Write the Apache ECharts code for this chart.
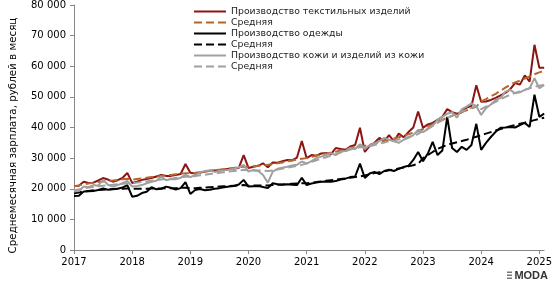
<!DOCTYPE html>
<html>
<head>
<meta charset="utf-8">
<script src="https://cdn.jsdelivr.net/npm/echarts@6/dist/echarts.min.js"></script>
<style>
  html, body { margin: 0; padding: 0; background: #fff; }
  #chart { width: 555px; height: 288px; }
</style>
</head>
<body>
<div id="chart"></div>
<script>
// месяцы: январь 2017 ... февраль 2025
const startYear = 2017
const yearTicks = [2017, 2018, 2019, 2020, 2021, 2022, 2023, 2024, 2025]

const seriesNames = [
  'Производство текстильных изделий',
  'Средняя',
  'Производство одежды',
  'Средняя ',
  'Производство кожи и изделий из кожи',
  'Средняя  '
]

const textile = [
  20900, 21000, 22300, 21900, 22000, 22700, 23500, 23000, 22300, 22800, 23500, 25200,
  21900, 22300, 22900, 23200, 23500, 24000, 24500, 24200, 24200, 24500, 24800, 28100,
  25200, 25000, 25200, 25600, 25900, 26000, 26100, 26300, 26500, 26600, 26800, 31000,
  26800, 27200, 27500, 28300, 27000, 28600, 28500, 29000, 29400, 29300, 30200, 35600,
  30000, 31000, 30800, 31500, 31700, 31200, 33300, 33000, 32700, 33800, 34300, 39900,
  32000, 34000, 35000, 36600, 35500, 37500, 35500, 38000, 36800, 38500, 40000, 45200,
  39900, 41000, 41500, 42500, 43500, 46000, 45000, 44500, 45000, 46500, 47000, 53800,
  48400, 48500, 49000, 49700, 50500, 51300, 52500, 54500, 54000, 57000, 55000, 67000,
  59500, 59500
]
const textileAvg = [
  20800, 21100, 21400, 21700, 22000, 22200, 22400, 22600, 22700, 22900, 23100, 23300,
  23000, 23200, 23400, 23600, 23800, 24000, 24200, 24400, 24500, 24700, 24900, 25100,
  25100, 25200, 25400, 25600, 25800, 26000, 26200, 26400, 26600, 26800, 27000, 27200,
  27200, 27300, 27500, 27700, 27800, 28000, 28300, 28600, 28900, 29200, 29500, 29800,
  30000, 30400, 30800, 31200, 31500, 31800, 32100, 32500, 32900, 33300, 33700, 34100,
  34000, 34400, 34800, 35200, 35600, 36000, 36400, 36800, 37300, 37800, 38300, 38800,
  39500, 40300, 41000, 41800, 42500, 43200, 43800, 44400, 45000, 45600, 46200, 46800,
  48500, 49300, 50200, 51000, 52000, 53000, 54000, 54700, 55300, 56000, 56700, 57400,
  58000, 58500
]
const clothing = [
  17600, 17700, 19100, 19200, 19300, 19600, 20100, 19700, 19800, 20000, 20400, 21200,
  17400, 17700, 18600, 19000, 20500, 19800, 20000, 20700, 20300, 19700, 20200, 22200,
  18300, 19600, 19900, 19500, 19700, 20000, 20200, 20500, 20700, 20900, 21400, 22900,
  20700, 20800, 20900, 20600, 20200, 21800, 21500, 21300, 21500, 21300, 21200, 23600,
  21200, 21700, 22000, 22300, 22400, 22300, 22500, 23000, 23300, 23800, 24000, 28200,
  23500, 25000, 25500, 24800, 25800, 26200, 25800, 26500, 27100, 27500, 29400, 32000,
  29000, 31500, 35300, 31000, 32500, 43500, 33300, 32000, 33700, 32700, 34300, 41200,
  32700, 35000, 36900, 38600, 39900, 40000, 40200, 40000, 40800, 41500, 40200, 50700,
  43500, 44500
]
const clothingAvg = [
  18500, 18800, 19100, 19300, 19500, 19600, 19700, 19800, 19900, 20000, 20000, 20100,
  20000, 20000, 20000, 20000, 20100, 20100, 20100, 20200, 20200, 20200, 20300, 20300,
  20100, 20200, 20300, 20400, 20500, 20600, 20700, 20800, 20900, 21000, 21100, 21200,
  21000, 21100, 21100, 21100, 21100, 21200, 21300, 21400, 21500, 21600, 21700, 21800,
  21800, 22000, 22200, 22400, 22600, 22800, 23000, 23200, 23400, 23600, 23800, 24000,
  24300, 24700, 25100, 25400, 25700, 26000, 26300, 26600, 26900, 27300, 27700, 28100,
  30000, 31000, 32000, 33000, 33700, 34300, 34800, 35200, 35600, 36000, 36500, 37000,
  37500, 38000, 38500, 39000, 39500, 40000, 40400, 40800, 41200, 41600, 42000, 42400,
  42800, 43200
]
const leather = [
  19100, 19300, 20700, 20500, 21200, 21000, 22900, 21300, 20700, 21200, 21800, 22600,
  20700, 20900, 21200, 21800, 22300, 22600, 24000, 22800, 23200, 23100, 23600, 24500,
  23800, 24500, 25300, 25800, 26000, 25500, 25800, 26000, 26200, 26500, 27000, 27800,
  25600, 26100, 25800, 24500, 22000, 25600, 26500, 26900, 27200, 27600, 27800, 28900,
  28200, 29000, 30000, 30500, 31000, 31600, 31000, 32100, 32300, 33300, 33000, 34500,
  33000, 34300, 34800, 35500, 36600, 36000, 35500, 35000, 36000, 36600, 37500, 39200,
  38500, 39500, 40500, 42500, 43500, 44500, 45000, 43200, 46000, 46800, 47900, 47000,
  44100, 46300, 47500, 49000, 49600, 51700, 52300, 51200, 51500, 52300, 52800, 56100,
  52800, 53900
]
const leatherAvg = [
  19500, 19800, 20100, 20400, 20600, 20800, 21000, 21200, 21300, 21500, 21600, 21800,
  21800, 22000, 22200, 22400, 22600, 22800, 23000, 23200, 23300, 23500, 23700, 23900,
  24000, 24200, 24400, 24600, 24800, 25000, 25200, 25400, 25600, 25800, 26000, 26200,
  26000, 26000, 26000, 25900, 25800, 26000, 26300, 26600, 26900, 27200, 27500, 27800,
  28300, 28800, 29300, 29800, 30300, 30800, 31300, 31800, 32300, 32800, 33200, 33600,
  33500, 33900, 34300, 34700, 35100, 35500, 35800, 36100, 36500, 36900, 37400, 37900,
  38800, 39700, 40600, 41500, 42300, 43100, 43900, 44600, 45200, 45800, 46400, 47000,
  46000, 46800, 47600, 48400, 49200, 50000, 50700, 51300, 51800, 52300, 52800, 53300,
  53600, 53900
]

const font = 'DejaVu Sans'

function toPoints(arr) {
  return arr.map((v, i) => [i, v])
}

function fmtThousands(v) {
  return String(v).replace(/\B(?=(\d{3})+(?!\d))/g, ' ')
}

const chart = echarts.init(document.getElementById('chart'))

const lineDefs = [
  { data: textile, color: '#8c1414', type: 'solid' },
  { data: textileAvg, color: '#b8652c', type: 'dashed' },
  { data: clothing, color: '#000000', type: 'solid' },
  { data: clothingAvg, color: '#000000', type: 'dashed' },
  { data: leather, color: '#a0a0a0', type: 'solid' },
  { data: leatherAvg, color: '#a0a0a0', type: 'dashed' }
]

const option = {
  backgroundColor: '#fff',
  animation: false,
  grid: { left: 70, right: 4, top: 5, bottom: 38 },
  legend: {
    orient: 'vertical',
    left: 188,
    top: 2,
    itemWidth: 32,
    itemHeight: 10,
    itemGap: 2,
    itemStyle: { opacity: 0 },
    textStyle: { fontFamily: font, fontSize: 9.3, color: '#222' },
    data: seriesNames
  },
  xAxis: {
    type: 'value',
    min: 0,
    max: 97,
    interval: 12,
    splitLine: { show: false },
    axisLine: { lineStyle: { color: '#888' } },
    axisTick: { show: true, length: 4, lineStyle: { color: '#888' } },
    axisLabel: {
      fontFamily: font, fontSize: 10, color: '#000', margin: 7,
      formatter: v => String(yearTicks[v / 12])
    }
  },
  yAxis: {
    type: 'value',
    min: 0,
    max: 80000,
    interval: 10000,
    name: 'Среднемесячная зарплата, рублей в месяц',
    nameLocation: 'middle',
    nameGap: 56,
    nameTextStyle: { fontFamily: font, fontSize: 10.3, color: '#000', padding: [0, 16, 0, 0] },
    splitLine: { show: false },
    axisLine: { show: true, lineStyle: { color: '#888' } },
    axisTick: { show: true, length: 4, lineStyle: { color: '#888' } },
    axisLabel: { fontFamily: font, fontSize: 10, color: '#000', margin: 8, formatter: fmtThousands }
  },
  graphic: [
    { type: 'rect', right: 43, bottom: 15, shape: { width: 5, height: 1.5 }, style: { fill: '#777' } },
    { type: 'rect', right: 43, bottom: 12, shape: { width: 5, height: 1.5 }, style: { fill: '#777' } },
    { type: 'rect', right: 43, bottom: 9, shape: { width: 5, height: 1.5 }, style: { fill: '#777' } },
    { type: 'text', right: 7, bottom: 7, style: { text: 'MODA', font: 'bold 11px "Liberation Sans"', fill: '#333' } }
  ],
  series: lineDefs.map((d, i) => ({
    name: seriesNames[i],
    type: 'line',
    data: toPoints(d.data),
    symbol: 'none',
    lineStyle: { color: d.color, width: 2, type: d.type },
    itemStyle: { color: d.color }
  }))
}

chart.setOption(option)
</script>
</body>
</html>
